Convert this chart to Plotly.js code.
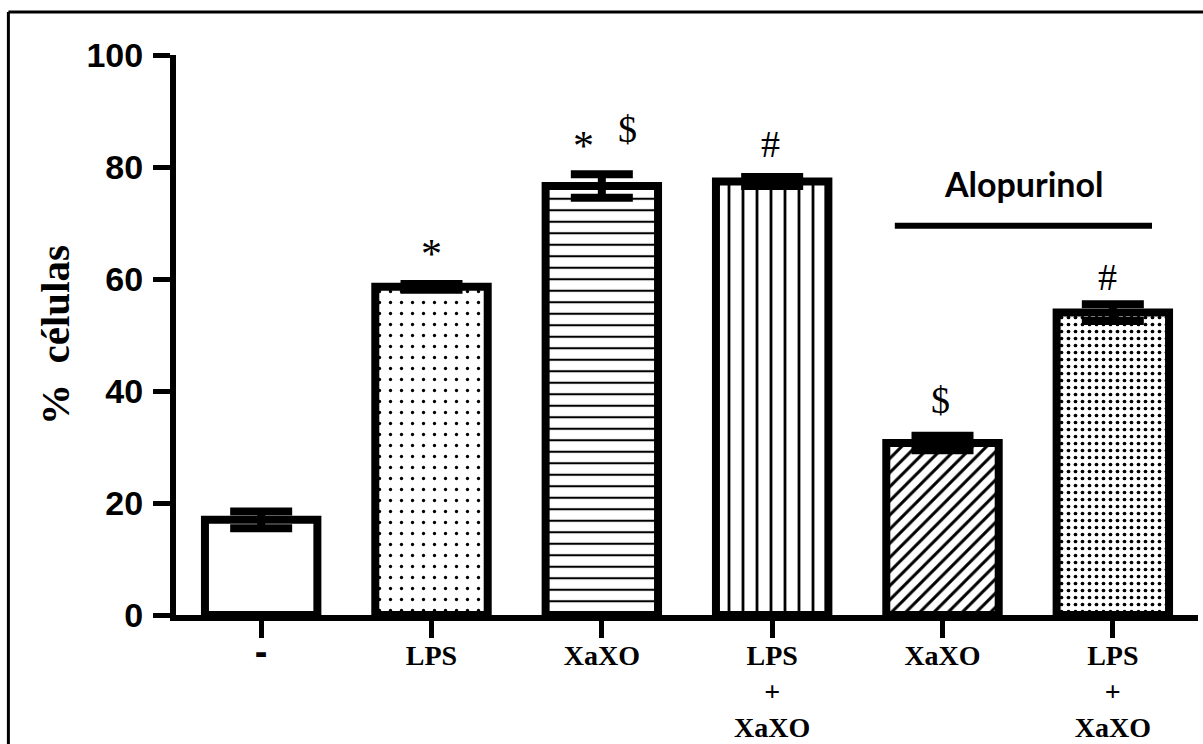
<!DOCTYPE html>
<html>
<head>
<meta charset="utf-8">
<script src="https://cdn.plot.ly/plotly-3.0.1.min.js"></script>
<style>
  html, body { margin: 0; padding: 0; background: #fff; }
  #chart { width: 1203px; height: 744px; }
</style>
</head>
<body>
<div id="chart"></div>
<script>
// ---- data ----
const categories = ['-', 'LPS', 'XaXO', 'LPS<br>+<br>XaXO', 'XaXO', 'LPS<br>+<br>XaXO'];
const values = [17.0, 58.6, 76.6, 77.4, 30.7, 54.0];
const errors = [1.5, 0.5, 2.1, 0.8, 1.3, 1.5];
const yTickVals = [0, 20, 40, 60, 80, 100];
const yTitle = '%  células';
const groupLabel = 'Alopurinol';
const groupBars = [4, 5];
// significance marks: bar index, symbol
const markBars = [1, 2, 2, 3, 4, 5];
const markTexts = ['*', '*', '$', '#', '$', '#'];

// ---- styles ----
const patternShapes = ['', '.', '-', '|', '/', '.'];
const patternSizes = [8, 11, 11.5, 14, 10, 7];
const patternSolid = [0.1, 0.07, 0.18, 0.2, 0.3, 0.22];
const markXShift = [0, -18, 26, -2, -2, -5];
const markYShift = [30, 28, 45, 33, 36, 27];

const xPos = categories.map((c, i) => i);

const trace = {
  type: 'bar',
  x: xPos,
  y: values,
  width: 0.66,
  marker: {
    color: 'white',
    line: { color: 'black', width: 8 },
    pattern: {
      shape: patternShapes,
      size: patternSizes,
      solidity: patternSolid,
      fgcolor: 'black',
      bgcolor: 'white',
      fillmode: 'replace'
    }
  },
  error_y: {
    type: 'data',
    array: errors,
    visible: true,
    color: 'black',
    thickness: 8,
    width: 31
  },
  hoverinfo: 'skip'
};

const annotations = markBars.map((b, i) => ({
  x: b,
  y: values[b] + errors[b],
  xref: 'x', yref: 'y',
  text: markTexts[i],
  showarrow: false,
  xanchor: 'center',
  yanchor: 'middle',
  xshift: markXShift[i],
  yshift: markYShift[i],
  font: { family: 'Liberation Serif, Times New Roman, serif', size: markTexts[i] === '*' ? 42 : 38, color: 'black' }
}));

annotations.push({
  x: (groupBars[0] + groupBars[1]) / 2 - 0.02,
  y: 77.1,
  xref: 'x', yref: 'y',
  text: '<b>' + groupLabel + '</b>',
  showarrow: false,
  xanchor: 'center', yanchor: 'middle',
  font: { family: 'Lato, Liberation Sans, Arial, sans-serif', size: 34, color: 'black' }
});

const shapes = [
  // group bracket line
  { type: 'line', xref: 'x', yref: 'y',
    x0: groupBars[0] - 0.28, x1: groupBars[1] + 0.23, y0: 69.5, y1: 69.5,
    line: { color: 'black', width: 6 } },
  // outer frame (top and left edges)
  { type: 'line', xref: 'paper', yref: 'paper',
    x0: -0.164, x1: 1.2, y0: 1.0768, y1: 1.0768,
    line: { color: 'black', width: 3 } },
  { type: 'line', xref: 'paper', yref: 'paper',
    x0: -0.164, x1: -0.164, y0: 1.0768, y1: -0.4,
    line: { color: 'black', width: 3 } }
];

const tickText = categories.map(c => c === '-'
  ? '<span style="font-family:Liberation Sans, Arial, sans-serif;font-size:38px"><b>-</b></span>'
  : '<b>' + c + '</b>');

const layout = {
  width: 1203,
  height: 744,
  margin: { l: 176, r: 5, t: 55, b: 129 },
  paper_bgcolor: 'white',
  plot_bgcolor: 'white',
  showlegend: false,
  xaxis: {
    range: [-0.5, 5.5],
    tickmode: 'array',
    tickvals: xPos,
    ticktext: tickText,
    ticks: 'outside',
    ticklen: 17,
    tickwidth: 5,
    tickcolor: 'black',
    ticklabelstandoff: -7,
    showline: true,
    linecolor: 'black',
    linewidth: 6,
    showgrid: false,
    zeroline: false,
    tickfont: { family: 'Liberation Serif, Times New Roman, serif', size: 28, color: 'black' },
    fixedrange: true
  },
  yaxis: {
    range: [0, 100],
    tickmode: 'array',
    tickvals: yTickVals,
    ticktext: yTickVals.map(v => '<b>' + v + '</b>'),
    ticks: 'outside',
    ticklen: 17,
    tickwidth: 5,
    tickcolor: 'black',
    ticklabelstandoff: 3,
    showline: true,
    linecolor: 'black',
    linewidth: 6,
    showgrid: false,
    zeroline: false,
    tickfont: { family: 'Liberation Sans, Arial, sans-serif', size: 34, color: 'black' },
    title: {
      text: '<b>' + yTitle + '</b>',
      font: { family: 'Liberation Serif, Times New Roman, serif', size: 41, color: 'black' },
      standoff: 6
    },
    automargin: false,
    fixedrange: true
  },
  annotations: annotations,
  shapes: shapes
};

Plotly.newPlot('chart', [trace], layout, { staticPlot: true, displayModeBar: false });
</script>
</body>
</html>
